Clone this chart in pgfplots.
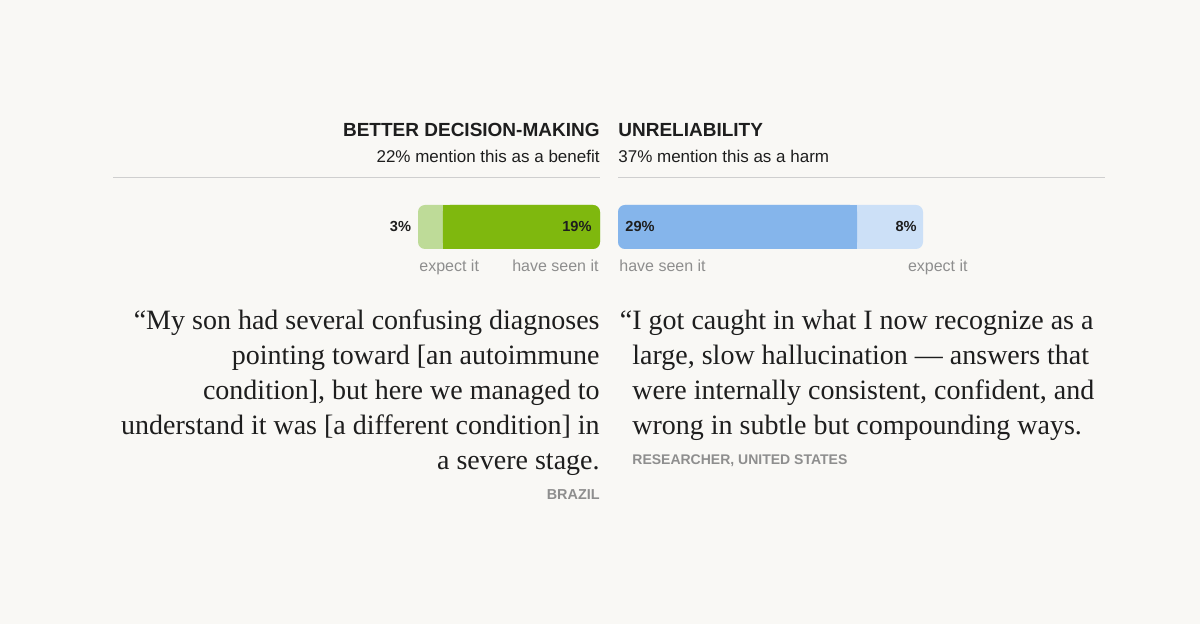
\documentclass[border=0pt]{standalone}
\usepackage{pgfplots}
\pgfplotsset{compat=1.18}
\usepackage{fontspec}
\setmainfont{Liberation Serif}
\newfontfamily\sansf{Liberation Sans}
\definecolor{bg}{HTML}{F9F8F5}
\definecolor{dkgreen}{HTML}{7FB80E}
\definecolor{ltgreen}{HTML}{BEDB98}
\definecolor{blueb}{HTML}{85B5EB}
\definecolor{ltblue}{HTML}{CCE0F7}
\definecolor{txt}{HTML}{1E1E1E}
\definecolor{graytxt}{HTML}{8E8E8E}
\definecolor{rulec}{HTML}{CFCFCF}
\begin{document}
\begin{tikzpicture}[x=0.5pt,y=-0.5pt]
\fill[bg] (0,0) rectangle (1200,624);
% headers
\node[anchor=base east,inner sep=0,text=txt,font=\sansf\bfseries\fontsize{9.5}{11}\selectfont] at (600,137) {BETTER DECISION-MAKING};
\node[anchor=base west,inner sep=0,text=txt,font=\sansf\bfseries\fontsize{9.5}{11}\selectfont] at (618,137) {UNRELIABILITY};
\node[anchor=base east,inner sep=0,text=txt,font=\sansf\fontsize{8.5}{10}\selectfont] at (600,163) {22\% mention this as a benefit};
\node[anchor=base west,inner sep=0,text=txt,font=\sansf\fontsize{8.5}{10}\selectfont] at (618,163) {37\% mention this as a harm};
\draw[rulec,line width=0.5pt] (113,178) -- (600,178);
\draw[rulec,line width=0.5pt] (618,178) -- (1105,178);
% left bar
\begin{axis}[at={(300pt,-102.5pt)},anchor=north east,scale only axis,width=91pt,height=22pt,
  xmin=0,xmax=22,ymin=-0.5,ymax=0.5,x dir=reverse,hide axis,clip=false]
\addplot[xbar,bar width=22pt,bar shift=0pt,fill=ltgreen,draw=none,rounded corners=3.5pt] coordinates {(22,0)};
\addplot[xbar,bar width=22pt,bar shift=0pt,fill=dkgreen,draw=none,rounded corners=3.5pt] coordinates {(19,0)};
\addplot[fill=dkgreen,draw=none,mark=none] coordinates {(15,-0.5) (19,-0.5) (19,0.5) (15,0.5)};
\node[anchor=base east,inner sep=0,text=txt,font=\sansf\bfseries\fontsize{7.3}{8}\selectfont,xshift=-3.3pt,yshift=-2.5pt] at (axis cs:22,0) {3\%};
\node[anchor=base east,inner sep=0,text=txt,font=\sansf\bfseries\fontsize{7.3}{8}\selectfont,xshift=-4pt,yshift=-2.5pt] at (axis cs:0,0) {19\%};
\end{axis}
% right bar
\begin{axis}[at={(309pt,-102.5pt)},anchor=north west,scale only axis,width=152.5pt,height=22pt,
  xmin=0,xmax=37,ymin=-0.5,ymax=0.5,hide axis,clip=false]
\addplot[xbar,bar width=22pt,bar shift=0pt,fill=ltblue,draw=none,rounded corners=3.5pt] coordinates {(37,0)};
\addplot[xbar,bar width=22pt,bar shift=0pt,fill=blueb,draw=none,rounded corners=3.5pt] coordinates {(29,0)};
\addplot[fill=blueb,draw=none,mark=none] coordinates {(25,-0.5) (29,-0.5) (29,0.5) (25,0.5)};
\node[anchor=base west,inner sep=0,text=txt,font=\sansf\bfseries\fontsize{7.3}{8}\selectfont,xshift=3.5pt,yshift=-2.5pt] at (axis cs:0,0) {29\%};
\node[anchor=base east,inner sep=0,text=txt,font=\sansf\bfseries\fontsize{7.3}{8}\selectfont,xshift=-3pt,yshift=-2.5pt] at (axis cs:37,0) {8\%};
\end{axis}
% bar captions
\node[anchor=base west,inner sep=0,text=graytxt,font=\sansf\fontsize{8}{9}\selectfont] at (419,272) {expect it};
\node[anchor=base east,inner sep=0,text=graytxt,font=\sansf\fontsize{8}{9}\selectfont] at (599,272) {have seen it};
\node[anchor=base west,inner sep=0,text=graytxt,font=\sansf\fontsize{8}{9}\selectfont] at (619,272) {have seen it};
\node[anchor=base east,inner sep=0,text=graytxt,font=\sansf\fontsize{8}{9}\selectfont] at (968,272) {expect it};
% left quote
\begin{scope}[every node/.style={anchor=base east,inner sep=0,text=txt,font=\fontsize{14}{16}\selectfont}]
\node at (600,330) {“My son had several confusing diagnoses};
\node at (600,365) {pointing toward [an autoimmune};
\node at (600,400) {condition], but here we managed to};
\node at (600,435) {understand it was [a different condition] in};
\node at (600,470) {a severe stage.};
\end{scope}
\node[anchor=base east,inner sep=0,text=graytxt,font=\sansf\bfseries\fontsize{7.2}{8}\selectfont] at (600,500) {BRAZIL};
% right quote
\begin{scope}[every node/.style={anchor=base west,inner sep=0,text=txt,font=\fontsize{14}{16}\selectfont}]
\node at (632,330) {\llap{“}I got caught in what I now recognize as a};
\node at (632,365) {large, slow hallucination — answers that};
\node at (632,400) {were internally consistent, confident, and};
\node at (632,435) {wrong in subtle but compounding ways.};
\end{scope}
\node[anchor=base west,inner sep=0,text=graytxt,font=\sansf\bfseries\fontsize{7}{8}\selectfont] at (632,465) {RESEARCHER, UNITED STATES};
\pgfresetboundingbox
\useasboundingbox (0,0) rectangle (1200,624);
\end{tikzpicture}
\end{document}
